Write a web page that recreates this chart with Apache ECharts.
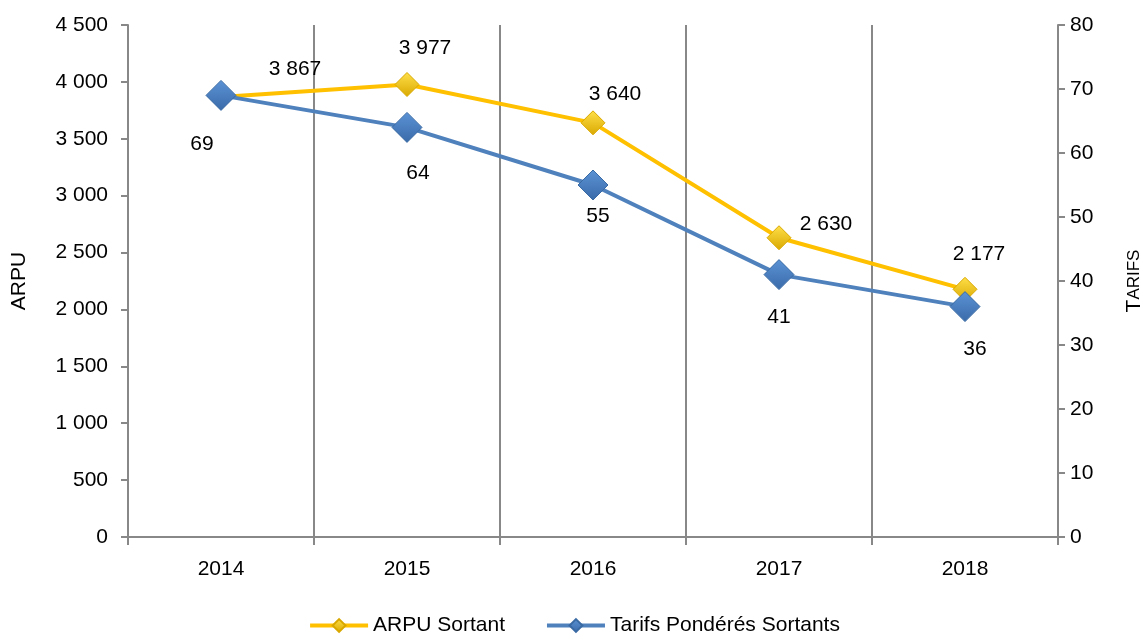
<!DOCTYPE html>
<html><head><meta charset="utf-8">
<script src="https://cdn.jsdelivr.net/npm/echarts@6/dist/echarts.min.js"></script>
<style>html,body{margin:0;padding:0;background:#fff}#c{width:1148px;height:639px}</style>
</head><body><div id="c"></div>
<script>
const categories = ['2014','2015','2016','2017','2018'];
const arpu = [3867, 3977, 3640, 2630, 2177];
const tarifs = [69, 64, 55, 41, 36];
const arpuTicks = [0, 500, 1000, 1500, 2000, 2500, 3000, 3500, 4000, 4500];
const tarifTicks = [0, 10, 20, 30, 40, 50, 60, 70, 80];

const FONT = '"Liberation Sans", Arial, sans-serif';
const FS = 21;
const fmt = v => String(v).replace(/\B(?=(\d{3})+(?!\d))/g, ' ');

const arpuLabelOffsets = [[74,3],[18,-5],[22,2],[47,17],[14,-4]];
const tarifLabelOffsets = [[-19,9],[11,6],[5,-9],[0,3],[10,3]];

const chart = echarts.init(document.getElementById('c'));
chart.setOption({
  animation: false,
  textStyle: {fontFamily: FONT},
  grid: {left: 128, right: 90, top: 25, bottom: 102, containLabel: false, outerBoundsMode: 'none'},
  legend: {
    bottom: -2, itemWidth: 58, itemHeight: 16, itemGap: 40,
    textStyle: {fontFamily: FONT, fontSize: FS, color: '#000'},
    lineStyle: {width: 4},
    data: ['ARPU Sortant', 'Tarifs Pondérés Sortants']
  },
  xAxis: {
    type: 'category', data: categories, boundaryGap: true,
    axisLine: {lineStyle: {color: '#888', width: 2}},
    axisTick: {show: true, length: 8, lineStyle: {color: '#888', width: 2}},
    axisLabel: {fontFamily: FONT, fontSize: FS, color: '#000', margin: 22},
    splitLine: {show: true, lineStyle: {color: '#888', width: 2}}
  },
  yAxis: [{
    type: 'value', min: 0, max: 4500, interval: 500, name: 'ARPU',
    nameLocation: 'middle', nameGap: 98, nameRotate: 90,
    nameTextStyle: {fontFamily: FONT, fontSize: FS, color: '#000'},
    axisLine: {show: true, lineStyle: {color: '#888', width: 2}},
    axisTick: {show: true, length: 7, lineStyle: {color: '#888', width: 2}},
    axisLabel: {fontFamily: FONT, fontSize: FS, color: '#000', margin: 20, formatter: v => arpuTicks.includes(v) ? fmt(v) : ''},
    splitLine: {show: false}
  }, {
    type: 'value', min: 0, max: 80, interval: 10,
    name: '{a|T}{b|ARIFS}',
    nameLocation: 'middle', nameGap: 66, nameRotate: 90,
    nameTextStyle: {fontFamily: FONT, color: '#000', rich: {a: {fontSize: FS, fontFamily: FONT}, b: {fontSize: 17, fontFamily: FONT}}},
    axisLine: {show: true, lineStyle: {color: '#888', width: 2}},
    axisTick: {show: true, length: 7, lineStyle: {color: '#888', width: 2}},
    axisLabel: {fontFamily: FONT, fontSize: FS, color: '#000', margin: 12, formatter: v => tarifTicks.includes(v) ? String(v) : ''},
    splitLine: {show: false}
  }],
  series: [{
    name: 'ARPU Sortant', type: 'line', yAxisIndex: 0,
    data: arpu.map((v, i) => ({value: v, label: {offset: arpuLabelOffsets[i]}})),
    lineStyle: {color: '#FFC000', width: 4},
    itemStyle: {
      color: new echarts.graphic.LinearGradient(0, 0, 0, 1, [{offset: 0, color: '#FFE04A'}, {offset: 1, color: '#D9A800'}]),
      borderColor: '#D9A800', borderWidth: 1
    },
    symbol: 'diamond', symbolSize: 24, z: 2,
    label: {show: true, position: 'top', distance: 8, fontFamily: FONT, fontSize: FS, color: '#000', formatter: p => fmt(p.value)}
  }, {
    name: 'Tarifs Pondérés Sortants', type: 'line', yAxisIndex: 1,
    data: tarifs.map((v, i) => ({value: v, label: {offset: tarifLabelOffsets[i]}})),
    lineStyle: {color: '#4F81BD', width: 4},
    itemStyle: {
      color: new echarts.graphic.LinearGradient(0, 0, 0, 1, [{offset: 0, color: '#5B93D6'}, {offset: 1, color: '#3A6AA8'}]),
      borderColor: '#3A6AA3', borderWidth: 1
    },
    symbol: 'diamond', symbolSize: 30, z: 3,
    label: {show: true, position: 'bottom', distance: 14, fontFamily: FONT, fontSize: FS, color: '#000'}
  }]
});
</script></body></html>
